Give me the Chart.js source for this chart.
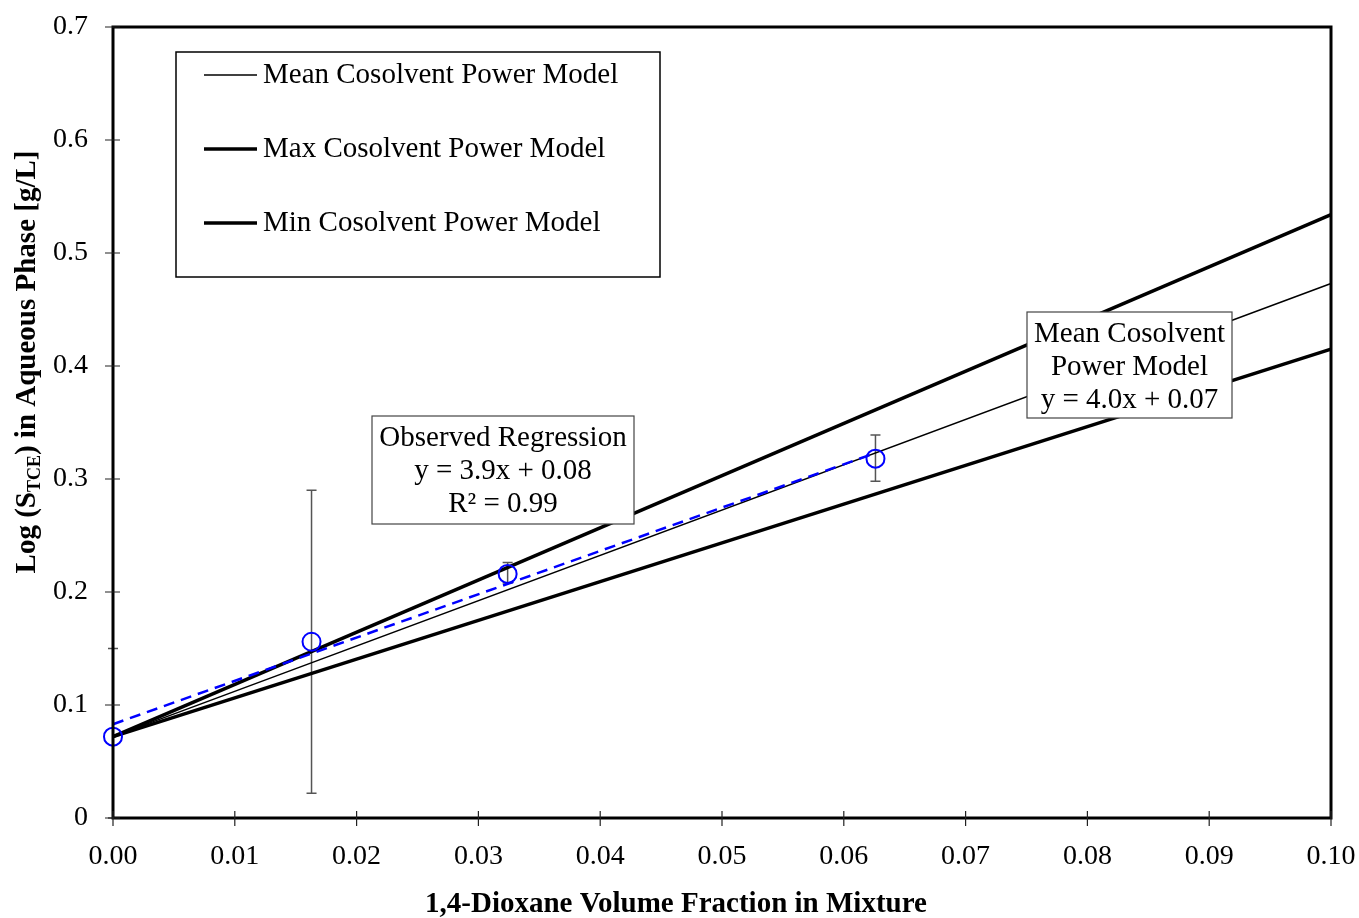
<!DOCTYPE html>
<html>
<head>
<meta charset="utf-8">
<script src="https://cdn.jsdelivr.net/npm/chart.js@4.4.1/dist/chart.umd.min.js"></script>
<style>
  html, body { margin: 0; padding: 0; background: #fff; }
  #wrap { width: 1359px; height: 918px; position: relative; }
</style>
</head>
<body>
<div id="wrap"><canvas id="myChart" width="1359" height="918"></canvas></div>
<script>
// model lines (two end points each)
const modelX = [0, 0.1];
const meanModel = [0.072, 0.473];
const maxModel = [0.072, 0.534];
const minModel = [0.072, 0.415];

// observed data with error bars
const obsX = [0, 0.0163, 0.0324, 0.0626];
const obsY = [0.072, 0.156, 0.216, 0.318];
const errLow = [0.0, 0.022, 0.208, 0.298];
const errHigh = [0.150, 0.290, 0.226, 0.339];

// observed regression (dashed)
const regX = [0, 0.0626];
const regY = [0.083, 0.323];

const xTicks = [0, 0.01, 0.02, 0.03, 0.04, 0.05, 0.06, 0.07, 0.08, 0.09, 0.10];
const yTicks = [0, 0.1, 0.2, 0.3, 0.4, 0.5, 0.6, 0.7];

const legendItems = [
    { label: 'Mean Cosolvent Power Model', width: 1.5 },
    { label: 'Max Cosolvent Power Model', width: 3.5 },
    { label: 'Min Cosolvent Power Model', width: 3.5 }
];

const SERIF = '"Liberation Serif", "Times New Roman", serif';

function pts(xs, ys) {
    return xs.map((x, i) => ({ x: x, y: ys[i] }));
}

const extras = {
    id: 'extras',
    beforeDatasetsDraw(chart) {
        const ctx = chart.ctx;
        const xs = chart.scales.x, ys = chart.scales.y;
        ctx.save();
        ctx.strokeStyle = '#555';
        ctx.lineWidth = 1.5;
        obsX.forEach((x, i) => {
            const px = xs.getPixelForValue(x);
            const top = ys.getPixelForValue(errHigh[i]);
            const bot = ys.getPixelForValue(errLow[i]);
            ctx.beginPath();
            ctx.moveTo(px, top); ctx.lineTo(px, bot);
            ctx.moveTo(px - 5, top); ctx.lineTo(px + 5, top);
            ctx.moveTo(px - 5, bot); ctx.lineTo(px + 5, bot);
            ctx.stroke();
        });
        ctx.restore();
    },
    afterDraw(chart) {
        const ctx = chart.ctx;
        const a = chart.chartArea;
        const xs = chart.scales.x, ys = chart.scales.y;
        ctx.save();

        // frame
        ctx.strokeStyle = '#000';
        ctx.lineWidth = 3;
        ctx.strokeRect(a.left, a.top, a.right - a.left, a.bottom - a.top);

        // ticks crossing the axes
        ctx.lineWidth = 1.2;
        ctx.strokeStyle = '#222';
        ctx.beginPath();
        xTicks.forEach(v => {
            const px = xs.getPixelForValue(v);
            ctx.moveTo(px, a.bottom - 7); ctx.lineTo(px, a.bottom + 8);
        });
        yTicks.forEach(v => {
            const py = ys.getPixelForValue(v);
            ctx.moveTo(a.left - 8, py); ctx.lineTo(a.left + 7, py);
        });
        ctx.stroke();

        // legend box
        ctx.fillStyle = '#fff';
        ctx.fillRect(176, 52, 484, 225);
        ctx.strokeStyle = '#000';
        ctx.lineWidth = 1.5;
        ctx.strokeRect(176, 52, 484, 225);
        ctx.font = '29px ' + SERIF;
        ctx.textBaseline = 'middle';
        ctx.textAlign = 'left';
        ctx.fillStyle = '#000';
        legendItems.forEach((it, i) => {
            const ly = 75 + i * 74;
            ctx.lineWidth = it.width;
            ctx.beginPath();
            ctx.moveTo(204, ly); ctx.lineTo(257, ly);
            ctx.stroke();
            ctx.fillText(it.label, 263, ly);
        });

        // annotation boxes
        function box(x, y, w, h, lines) {
            ctx.fillStyle = '#fff';
            ctx.fillRect(x, y, w, h);
            ctx.strokeStyle = '#444';
            ctx.lineWidth = 1.2;
            ctx.strokeRect(x, y, w, h);
            ctx.fillStyle = '#000';
            ctx.font = '29px ' + SERIF;
            ctx.textAlign = 'center';
            ctx.textBaseline = 'middle';
            lines.forEach((t, i) => ctx.fillText(t, x + w / 2, y + 22 + i * 33));
        }
        box(372, 416, 262, 108, ['Observed Regression', 'y = 3.9x + 0.08', 'R\u00b2 = 0.99']);
        box(1027, 312, 205, 106, ['Mean Cosolvent', 'Power Model', 'y = 4.0x + 0.07']);

        // axis titles
        ctx.fillStyle = '#000';
        ctx.font = 'bold 29px ' + SERIF;
        ctx.textAlign = 'center';
        ctx.textBaseline = 'middle';
        ctx.fillText('1,4-Dioxane Volume Fraction in Mixture', 676, 905);

        ctx.translate(28, 362);
        ctx.rotate(-Math.PI / 2);
        const big = 'bold 29px ' + SERIF;
        const small = 'bold 18px ' + SERIF;
        const parts = [
            { t: 'Log (S', f: big, dy: 0 },
            { t: 'TCE', f: small, dy: 7 },
            { t: ') in Aqueous Phase [g/L]', f: big, dy: 0 }
        ];
        let total = 0;
        parts.forEach(p => { ctx.font = p.f; total += ctx.measureText(p.t).width; });
        let cx = -total / 2;
        ctx.textAlign = 'left';
        parts.forEach(p => {
            ctx.font = p.f;
            ctx.fillText(p.t, cx, p.dy);
            cx += ctx.measureText(p.t).width;
        });
        ctx.restore();
    }
};

const chartElement = document.getElementById('myChart');
const ctx = chartElement.getContext('2d');
new Chart(ctx, {
    type: 'scatter',
    data: {
        datasets: [
            {
                label: 'Observed',
                data: pts(obsX, obsY),
                showLine: false,
                pointStyle: 'circle',
                pointRadius: 9,
                pointBorderWidth: 2,
                pointBorderColor: '#0000ff',
                pointBackgroundColor: 'rgba(0,0,0,0)'
            },
            {
                label: 'Regression',
                data: pts(regX, regY),
                showLine: true,
                borderColor: '#0000ff',
                borderWidth: 2.5,
                borderDash: [11, 7],
                pointRadius: 0
            },
            {
                label: 'Mean Cosolvent Power Model',
                data: pts(modelX, meanModel),
                showLine: true,
                borderColor: '#000',
                borderWidth: 1.5,
                pointRadius: 0
            },
            {
                label: 'Max Cosolvent Power Model',
                data: pts(modelX, maxModel),
                showLine: true,
                borderColor: '#000',
                borderWidth: 3.5,
                pointRadius: 0
            },
            {
                label: 'Min Cosolvent Power Model',
                data: pts(modelX, minModel),
                showLine: true,
                borderColor: '#000',
                borderWidth: 3.5,
                pointRadius: 0
            }
        ]
    },
    options: {
        responsive: false,
        animation: false,
        clip: false,
        layout: { padding: { left: 0, right: 28, top: 27, bottom: 0 } },
        plugins: {
            legend: { display: false },
            tooltip: { enabled: false }
        },
        scales: {
            x: {
                type: 'linear',
                min: 0,
                max: 0.1,
                afterFit: (s) => { s.height = 100; },
                afterBuildTicks: (s) => { s.ticks = xTicks.map(v => ({ value: v })); },
                // ticks are drawn by the plugin; tickLength only spaces the labels
                grid: { display: false, drawTicks: true, tickLength: 22 },
                border: { display: false },
                ticks: {
                    color: '#000',
                    padding: 0,
                    maxRotation: 0,
                    font: { family: SERIF, size: 28 },
                    callback: (v) => Number(v).toFixed(2)
                }
            },
            y: {
                type: 'linear',
                min: 0,
                max: 0.7,
                afterFit: (s) => { s.width = 113; },
                afterBuildTicks: (s) => { s.ticks = yTicks.map(v => ({ value: v })); },
                grid: { display: false, drawTicks: true, tickLength: 25 },
                border: { display: false },
                ticks: {
                    color: '#000',
                    padding: 0,
                    font: { family: SERIF, size: 28 },
                    callback: (v) => v === 0 ? '0' : Number(v).toFixed(1)
                }
            }
        }
    },
    plugins: [extras]
});
</script>
</body>
</html>
